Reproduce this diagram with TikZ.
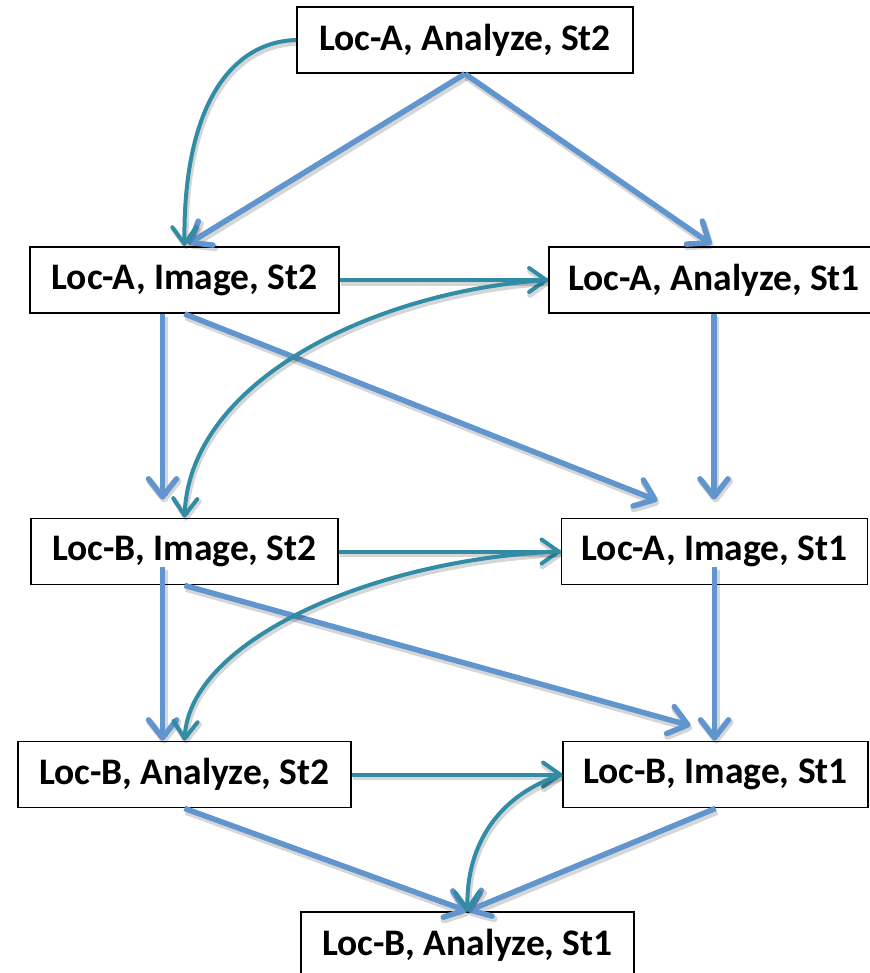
\documentclass[tikz,border=0pt]{standalone}
\usepackage{fontspec}
\setmainfont{Carlito}
\usetikzlibrary{arrows.meta,calc}

\definecolor{flowblue}{HTML}{6096CD}
\definecolor{flowteal}{HTML}{318CA5}

\tikzset{
  box/.style={draw=black, line width=1.8pt, fill=white, inner xsep=0pt, inner ysep=0pt,
    minimum height=66pt, font=\fontsize{37.5}{44}\selectfont\bfseries},
  mainflow/.style={draw=flowblue, line width=5.5pt,
    -{Straight Barb[length=18pt,width=28pt,round]},
    preaction={draw=black, opacity=.16, line width=7pt,
      transform canvas={shift={(1.5pt,-3pt)}}}},
  sideflow/.style={draw=flowteal, line width=4pt,
    -{Straight Barb[length=17pt,width=24pt,round]},
    preaction={draw=black, opacity=.16, line width=5.5pt,
      transform canvas={shift={(1.5pt,-3pt)}}}}
}

\begin{document}
\begin{tikzpicture}[x=1pt,y=-1pt]
\useasboundingbox (0,0) rectangle (869,973);

% task boxes
\node[box, minimum width=336pt] (aa2) at (465,40)      {Loc-A, Analyze, St2};
\node[box, minimum width=309pt] (ai2) at (184.5,280)   {Loc-A, Image, St2};
\node[box, minimum width=330pt] (aa1) at (714,280)     {Loc-A, Analyze, St1};
\node[box, minimum width=307pt] (bi2) at (184.5,551.5) {Loc-B, Image, St2};
\node[box, minimum width=306pt] (ai1) at (714.5,551.5) {Loc-A, Image, St1};
\node[box, minimum width=333pt] (ba2) at (184.5,774.5) {Loc-B, Analyze, St2};
\node[box, minimum width=305pt] (bi1) at (715.5,774.5) {Loc-B, Image, St1};
\node[box, minimum width=333pt] (ba1) at (467.5,945)   {Loc-B, Analyze, St1};

% main dependencies
\draw[mainflow, shorten >=4pt] (aa2.south) -- (ai2.north);
\draw[mainflow, shorten >=3pt] (aa2.south) -- (aa1.north);
\draw[mainflow, shorten >=18pt] ([xshift=-22pt]ai2.south) -- ([xshift=-22pt]bi2.north);
\draw[mainflow] (ai2.south) -- ($(ai1.north)+(-57,-17)$);
\draw[mainflow, shorten >=18pt] (aa1.south) -- (aa1.south |- ai1.north);
\draw[mainflow] ($(bi2.center)+(-22,15)$) -- ([xshift=-22pt]ba2.north);
\draw[mainflow] (bi2.south) -- ($(bi1.north)+(-25,-15)$);
\draw[mainflow] ($(ai1.center)+(0,15)$) -- (ai1.center |- bi1.north);
\draw[mainflow] (ba2.south) -- (ba1.north);
\draw[mainflow] (bi1.south) -- (ba1.north);

% side dependencies
\draw[sideflow] (aa2.west) .. controls +(-67,2) and +(-1.5,-137) .. (ai2.north);
\draw[sideflow] (ai2.east) -- (aa1.west);
\draw[sideflow] (aa1.west) .. controls +(-169,10) and +(5.5,-139) .. (bi2.north);
\draw[sideflow] (bi2.east) -- (ai1.west);
\draw[sideflow] (ai1.west) .. controls +(-182,6.5) and +(5.5,-102) .. (ba2.north);
\draw[sideflow] (ba2.east) -- (bi1.west);
\draw[sideflow] (bi1.west) .. controls +(-63,20) and +(-1.5,-67) .. (ba1.north);
\end{tikzpicture}
\end{document}
